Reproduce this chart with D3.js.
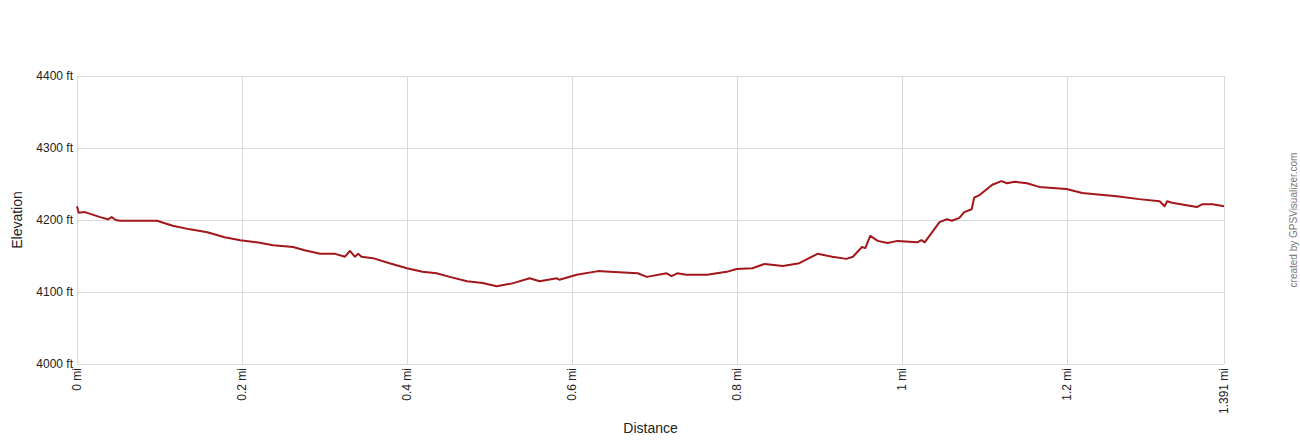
<!DOCTYPE html>
<html lang="en">
  <head>
    <meta charset="UTF-8" />
    <title>Elevation profile</title>
    <style>
      body {
        margin: 0;
        background: #fff;
        font-family: "Liberation Sans", Arial, sans-serif;
      }
      .grid line {
        stroke: #d9d9d9;
        stroke-width: 1px;
      }
      .tick-label {
        font-size: 12px;
        fill: #222;
      }
    </style>
  </head>
  <body>
    <div id="chart"></div>
    <script src="https://d3js.org/d3.v7.min.js"></script>
    <script>
      // distance in miles, elevation in feet
      const distance = [
        0, 0.002, 0.0097, 0.028, 0.0376, 0.042, 0.047, 0.052, 0.097, 0.116,
        0.137, 0.158, 0.179, 0.198, 0.218, 0.238, 0.262, 0.276, 0.295, 0.313,
        0.325, 0.331, 0.337, 0.341, 0.345, 0.359, 0.379, 0.4, 0.419, 0.436,
        0.452, 0.473, 0.492, 0.509, 0.528, 0.549, 0.561, 0.582, 0.585, 0.606,
        0.632, 0.646, 0.68, 0.691, 0.715, 0.721, 0.728, 0.739, 0.764, 0.788,
        0.8, 0.819, 0.834, 0.856, 0.876, 0.898, 0.916, 0.933, 0.941, 0.952,
        0.956, 0.962, 0.971, 0.983, 0.995, 1.019, 1.024, 1.028, 1.046, 1.055,
        1.061, 1.07, 1.076, 1.085, 1.088, 1.095, 1.11, 1.121, 1.128, 1.137,
        1.152, 1.167, 1.2, 1.219, 1.261, 1.288, 1.313, 1.319, 1.322, 1.328,
        1.358, 1.365, 1.377, 1.391
      ];
      const elevation = [
        4219, 4210, 4211, 4204, 4201, 4204, 4200, 4199, 4199, 4192,
        4187, 4183, 4176, 4172, 4169, 4165, 4162.5, 4158, 4153, 4153,
        4149, 4157, 4149, 4153, 4149, 4147, 4140, 4133, 4128, 4126,
        4121, 4115, 4112.5, 4108, 4112, 4119, 4115, 4119, 4117, 4124,
        4129, 4128, 4126, 4121, 4126, 4122, 4126, 4124, 4124, 4128,
        4132, 4133, 4139, 4136, 4140, 4153, 4149, 4146, 4149, 4162.5,
        4161, 4178, 4171, 4168, 4171, 4169, 4172, 4169, 4197, 4201,
        4199, 4203, 4211, 4215, 4231, 4235, 4249, 4254, 4251, 4253,
        4251, 4246, 4243, 4237.5, 4233, 4229, 4226, 4219, 4226, 4224,
        4218, 4222, 4222, 4219
      ];
      const xTicks = [0, 0.2, 0.4, 0.6, 0.8, 1, 1.2, 1.391];
      const xTickLabels = ["0 mi", "0.2 mi", "0.4 mi", "0.6 mi", "0.8 mi", "1 mi", "1.2 mi", "1.391 mi"];
      const yTicks = [4000, 4100, 4200, 4300, 4400];
      const yTickLabels = ["4000 ft", "4100 ft", "4200 ft", "4300 ft", "4400 ft"];

      const width = 1300;
      const height = 440;
      const margin = { top: 76, right: 76, bottom: 76, left: 77 };

      const x = d3.scaleLinear()
        .domain([0, 1.391])
        .range([margin.left, width - margin.right]);
      const y = d3.scaleLinear()
        .domain([4000, 4400])
        .range([height - margin.bottom, margin.top]);

      const svg = d3.select("#chart")
        .append("svg")
        .attr("width", width)
        .attr("height", height);

      // grid
      const grid = svg.append("g").attr("class", "grid");
      grid.selectAll(".gx")
        .data(xTicks)
        .enter().append("line")
        .attr("x1", d => Math.round(x(d)) + 0.5)
        .attr("x2", d => Math.round(x(d)) + 0.5)
        .attr("y1", y(4400))
        .attr("y2", y(4000));
      grid.selectAll(".gy")
        .data(yTicks)
        .enter().append("line")
        .attr("x1", x(0))
        .attr("x2", x(1.391))
        .attr("y1", d => Math.round(y(d)) + 0.5)
        .attr("y2", d => Math.round(y(d)) + 0.5);

      // y tick labels
      svg.append("g")
        .selectAll("text")
        .data(yTicks)
        .enter().append("text")
        .attr("class", "tick-label")
        .attr("x", x(0) - 4)
        .attr("y", d => y(d) + 4)
        .attr("text-anchor", "end")
        .text((d, i) => yTickLabels[i]);

      // x tick labels, rotated
      svg.append("g")
        .selectAll("text")
        .data(xTicks)
        .enter().append("text")
        .attr("class", "tick-label")
        .attr("transform", d => `translate(${x(d) + 4},${y(4000) + 4}) rotate(-90)`)
        .attr("text-anchor", "end")
        .text((d, i) => xTickLabels[i]);

      // profile line
      const points = distance.map((d, i) => [d, elevation[i]]);
      svg.append("path")
        .datum(points)
        .attr("fill", "none")
        .attr("stroke", "#a3161a")
        .attr("stroke-width", 2)
        .attr("stroke-linejoin", "round")
        .attr("d", d3.line().x(d => x(d[0])).y(d => y(d[1])));

      // axis titles
      svg.append("text")
        .attr("x", (x(0) + x(1.391)) / 2)
        .attr("y", 433)
        .attr("text-anchor", "middle")
        .attr("font-size", 14)
        .attr("fill", "#222")
        .text("Distance");

      svg.append("text")
        .attr("transform", `translate(22,${(y(4000) + y(4400)) / 2}) rotate(-90)`)
        .attr("text-anchor", "middle")
        .attr("font-size", 14)
        .attr("fill", "#222")
        .text("Elevation");

      svg.append("text")
        .attr("transform", `translate(1297,${(y(4000) + y(4400)) / 2}) rotate(-90)`)
        .attr("text-anchor", "middle")
        .attr("font-size", 10)
        .attr("fill", "#777")
        .text("created by GPSVisualizer.com");
    </script>
  </body>
</html>
